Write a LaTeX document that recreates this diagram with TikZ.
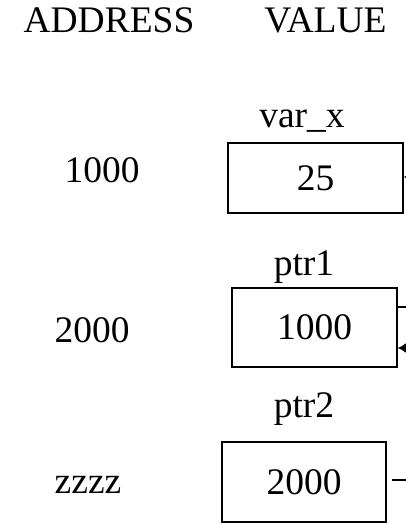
\documentclass[tikz,border=0pt]{standalone}
\usepackage{fontspec}
\setmainfont{Liberation Serif}
\usetikzlibrary{arrows.meta}
\begin{document}
\begin{tikzpicture}[x=1pt,y=-1pt,
  txt/.style={font=\fontsize{37.5}{40}\selectfont, anchor=base, inner sep=0pt},
  cell/.style={draw, line width=1.4pt, inner sep=0pt, font=\fontsize{37.5}{40}\selectfont},
  link/.style={line width=1.4pt},
  ptr/.style={line width=1.4pt, -{Latex[length=9pt,width=11pt]}}]
\fill[white] (0,0) rectangle (406,524);
\clip (0,0) rectangle (406,524);
% headers
\node[txt] (haddr) at (109,33) {ADDRESS};
\node[txt] (hval) at (325.5,33) {VALUE};
% names
\node[txt] (nx) at (302,128) {var\_x};
\node[txt] (np1) at (304,275) {ptr1};
\node[txt] (np2) at (304,417) {ptr2};
% addresses
\node[txt] (a1) at (102,182) {1000};
\node[txt] (a2) at (92,342) {2000};
\node[txt] (a3) at (88,493) {zzzz};
% boxes
\node[cell, minimum width=175pt, minimum height=70pt] (b1) at (315.5,178) {25};
\node[cell, minimum width=165pt, minimum height=79pt] (b2) at (314.5,327.5) {1000};
\node[cell, minimum width=164pt, minimum height=80pt] (b3) at (304,482) {2000};
% connectors leaving the picture
\coordinate (e1) at (440,177);
\coordinate (e2) at (440,348);
\coordinate (s2) at (440,307);
\coordinate (g3) at (392,480);
\coordinate (s3) at (440,480);
\draw[ptr] (e1) -- (b1.east |- e1);
\draw[ptr] (e2) -- (b2.east |- e2);
\draw[link] (b2.east |- s2) -- (s2);
\draw[link] (g3) -- (s3);
\end{tikzpicture}
\end{document}
